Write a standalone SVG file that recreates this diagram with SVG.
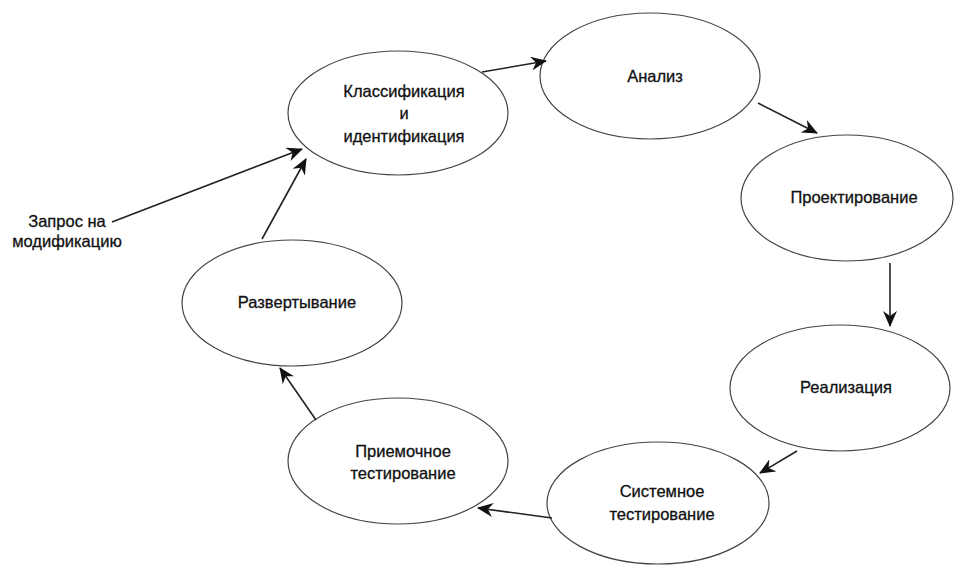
<svg xmlns="http://www.w3.org/2000/svg" width="955" height="565" viewBox="0 0 955 565">
<style>
.n ellipse{fill:#fff;stroke:#444;stroke-width:1.2}
text{font-family:"Liberation Sans",Arial,sans-serif;font-size:16.5px;fill:#111;stroke:#111;stroke-width:0.3;text-anchor:middle}
.c line{stroke:#222;stroke-width:1.6;marker-end:url(#ah)}
</style>
<defs>
<marker id="ah" viewBox="0 0 16 14" refX="15" refY="7" markerWidth="16" markerHeight="14" markerUnits="userSpaceOnUse" orient="auto">
<path d="M0,0 L16,7 L0,14 L5,7 Z" fill="#111"/>
</marker>
</defs>
<rect width="955" height="565" fill="#fff"/>
<g id="n-class" class="n"><ellipse cx="398" cy="113" rx="110" ry="62"/>
<text x="404" y="97">Классификация</text><text x="404" y="119">и</text><text x="404" y="142">идентификация</text></g>
<g id="n-analysis" class="n"><ellipse cx="650" cy="76" rx="110" ry="63"/><text x="655" y="82">Анализ</text></g>
<g id="n-design" class="n"><ellipse cx="847" cy="198" rx="106" ry="63"/><text x="854" y="203">Проектирование</text></g>
<g id="n-impl" class="n"><ellipse cx="840" cy="388" rx="110" ry="63"/><text x="846" y="393">Реализация</text></g>
<g id="n-systest" class="n"><ellipse cx="658" cy="503" rx="111" ry="61"/><text x="662" y="497">Системное</text><text x="662" y="520">тестирование</text></g>
<g id="n-acctest" class="n"><ellipse cx="398" cy="461" rx="110" ry="63"/><text x="403" y="457">Приемочное</text><text x="403" y="479">тестирование</text></g>
<g id="n-deploy" class="n"><ellipse cx="292" cy="303" rx="110" ry="63"/><text x="297" y="308">Развертывание</text></g>
<g id="n-request"><text x="67" y="227">Запрос на</text><text x="67" y="247">модификацию</text></g>
<g id="connectors" class="c">
<line x1="482" y1="72" x2="546" y2="61"/>
<line x1="758" y1="103" x2="817" y2="133"/>
<line x1="890" y1="263" x2="890" y2="326"/>
<line x1="797" y1="451" x2="760" y2="473"/>
<line x1="552" y1="518" x2="478" y2="508"/>
<line x1="316" y1="420" x2="280" y2="368"/>
<line x1="262" y1="239" x2="306" y2="159"/>
<line x1="112" y1="222" x2="302" y2="149"/>
</g>
</svg>
